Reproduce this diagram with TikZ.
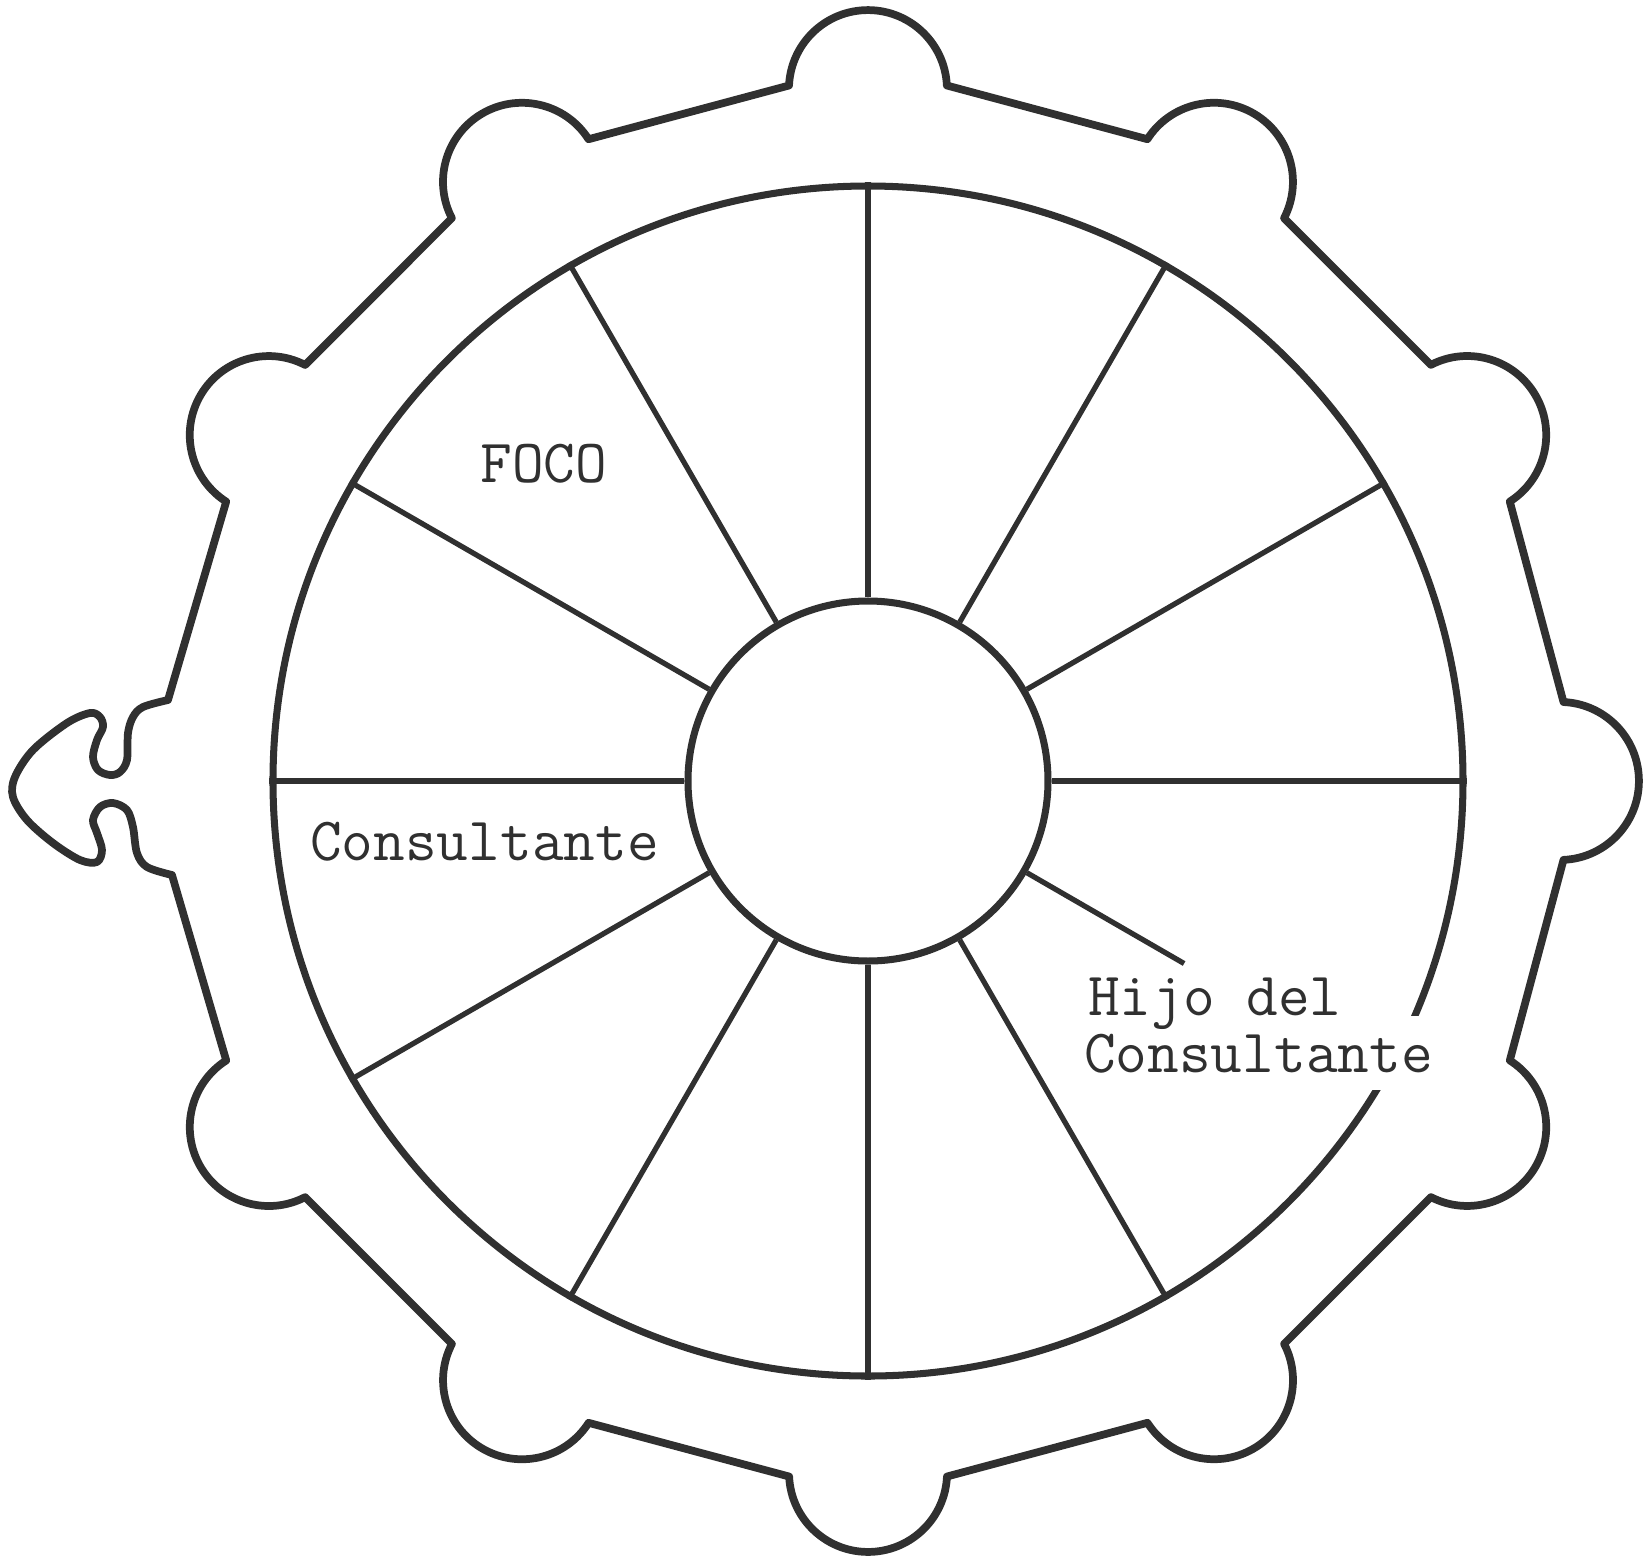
\documentclass[tikz,border=0pt]{standalone}
\usepackage{fontspec}
\definecolor{inkG}{RGB}{48,48,48}

\begin{document}
\begin{tikzpicture}[x=1cm,y=1cm,
  rim/.style={inkG,line width=2.2pt,line join=round},
  disc/.style={circle,draw=inkG,line width=2pt,inner sep=0pt},
  spoke/.style={inkG,line width=1.5pt},
  lbl/.style={font=\fontsize{17.5}{21}\selectfont\ttfamily,text=inkG,inner sep=2pt}]
\useasboundingbox (-8.68,-7.74) rectangle (7.75,7.81);
% wheel and hub
\node[disc,minimum size=11.9cm] (wheel) at (0,0) {};
\node[disc,minimum size=3.6cm] (hub) at (0,0) {};
\foreach \a in {0,30,...,300} \draw[spoke] (hub.\a) -- (wheel.\a);
\coordinate (cut) at (330:3.65);
\draw[spoke] (hub.330) -- (cut);
% outer rim: eleven bumps and the hook on the left
\draw[rim] (-6.96,-0.94) foreach \a in {210,240,...,510} {-- (\a-6.47:7) arc[start angle=\a-87.4,end angle=\a+87.4,radius=0.79]}
  -- plot[smooth,tension=0.55] coordinates {(-7.00,0.81) (-7.25,0.74) (-7.35,0.64) (-7.40,0.48) (-7.41,0.21) (-7.48,0.09)
     (-7.58,0.06) (-7.70,0.11) (-7.75,0.24) (-7.71,0.41) (-7.65,0.54) (-7.68,0.64) (-7.78,0.68) (-8.01,0.58) (-8.35,0.31)
     (-8.53,0.04) (-8.55,-0.16) (-8.41,-0.39) (-8.15,-0.62) (-7.88,-0.79) (-7.71,-0.81) (-7.66,-0.69) (-7.71,-0.52)
     (-7.75,-0.39) (-7.68,-0.26) (-7.55,-0.22) (-7.41,-0.29) (-7.35,-0.46) (-7.31,-0.72) (-7.21,-0.86) (-6.96,-0.94)} -- cycle;
% labels
\node[lbl,anchor=base] (foco) at (-3.24,2.99) {FOCO};
\node[lbl,anchor=base] (consul) at (-3.835,-0.79) {Consultante};
\node[lbl,anchor=base,fill=white,inner sep=5pt] (hijoB) at (3.905,-2.91) {Consultante};
\node[lbl,anchor=base] (hijo) at (3.47,-2.34) {Hijo del};
\end{tikzpicture}
\end{document}
